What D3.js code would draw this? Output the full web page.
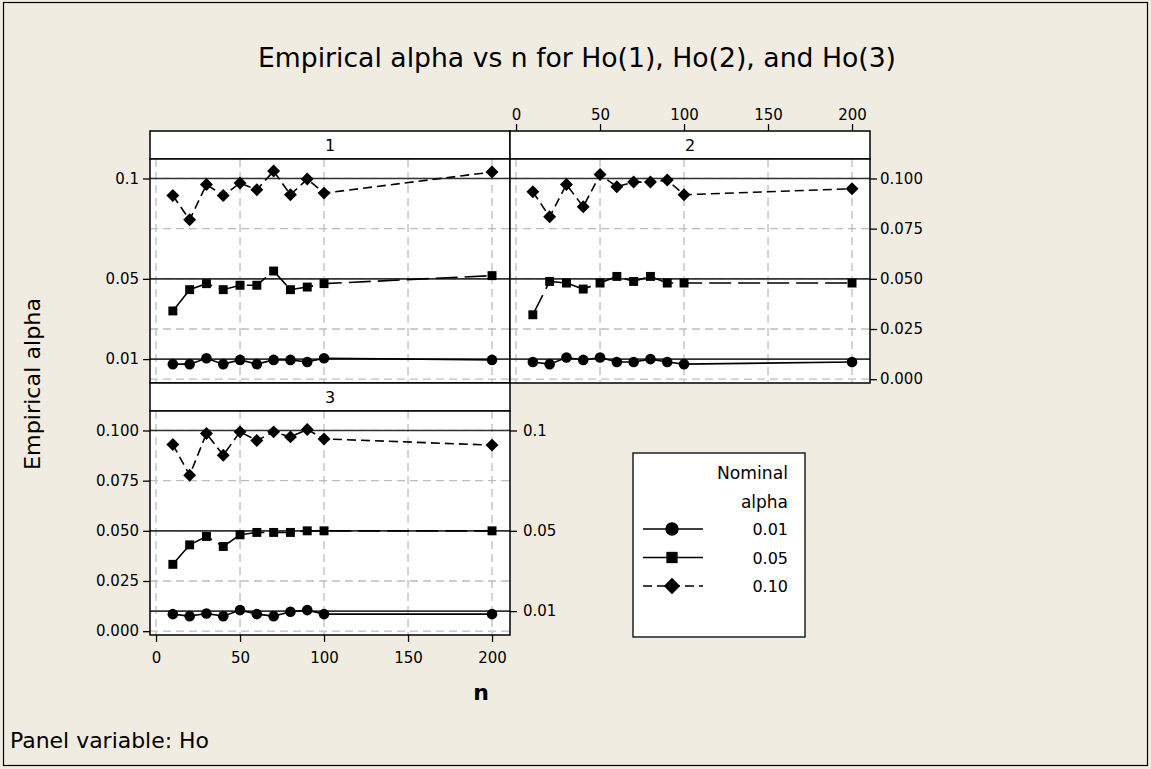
<!DOCTYPE html>
<html><head><meta charset="utf-8">
<script src="https://cdn.jsdelivr.net/npm/d3@7"></script>
<style>body{margin:0;background:#F0ECE2;} svg{display:block;}</style>
</head><body>
<svg id="c" width="1151" height="769"></svg>
<script>
// ---- data ----
const nValues = [10,20,30,40,50,60,70,80,90,100,200];
const panels = ["1","2","3"];
const nominal = ["0.01","0.05","0.10"];
const refLevels = [0.01,0.05,0.10];
const ho1_001 = [0.0075,0.0075,0.0104,0.0075,0.0096,0.0075,0.0096,0.0096,0.0086,0.0104,0.0096];
const ho1_005 = [0.0340,0.0446,0.0476,0.0446,0.0468,0.0468,0.0539,0.0446,0.0459,0.0476,0.0516];
const ho1_010 = [0.0915,0.0794,0.0970,0.0915,0.0977,0.0944,0.1037,0.0919,0.0997,0.0927,0.1032];
const ho2_001 = [0.0086,0.0075,0.0108,0.0096,0.0108,0.0086,0.0086,0.0100,0.0086,0.0075,0.0086];
const ho2_005 = [0.0321,0.0487,0.0479,0.0449,0.0479,0.0512,0.0487,0.0512,0.0479,0.0479,0.0479];
const ho2_010 = [0.0934,0.0809,0.0970,0.0859,0.1020,0.0959,0.0982,0.0982,0.0992,0.0919,0.0949];
const ho3_001 = [0.0085,0.0075,0.0088,0.0075,0.0105,0.0085,0.0075,0.0097,0.0105,0.0085,0.0085];
const ho3_005 = [0.0333,0.0430,0.0472,0.0422,0.0480,0.0492,0.0492,0.0492,0.0500,0.0500,0.0500];
const ho3_010 = [0.0930,0.0777,0.0985,0.0877,0.0993,0.0950,0.0993,0.0968,0.1005,0.0958,0.0927];
const xTicks = [0,50,100,150,200];
const yTicksFull = [0,0.025,0.05,0.075,0.1];
const yTickLabelsFull = ["0.000","0.025","0.050","0.075","0.100"];
const yTicksRef = [0.01,0.05,0.1];
const yTickLabelsRef = ["0.01","0.05","0.1"];

const seriesByPanel = [
  [ho1_001,ho1_005,ho1_010],
  [ho2_001,ho2_005,ho2_010],
  [ho3_001,ho3_005,ho3_010]
];

// ---- layout ----
const svg = d3.select("#c");
const FONT = "DejaVu Sans, Verdana, sans-serif";
const W = 360, HH = 28, PH = 224;
const layout = [{x:150,top:131},{x:510,top:131},{x:150,top:383}];
const dashes = [null, "22,7", "9,5"];
const symbols = [d3.symbolCircle, d3.symbolSquare, d3.symbolSquare];
const symRot = [0, 0, 45];
const symSizes = [88, 80, 84];

svg.append("rect").attr("x",3.5).attr("y",2.5).attr("width",1144).attr("height",763)
  .attr("fill","#F0ECE2").attr("stroke","#000").attr("stroke-width",1.2);

svg.append("text").attr("x",577).attr("y",67).attr("text-anchor","middle")
  .attr("font-family",FONT).attr("font-size",27).attr("textLength",638).attr("lengthAdjust","spacingAndGlyphs")
  .text("Empirical alpha vs n for Ho(1), Ho(2), and Ho(3)");

const axes = [];
panels.forEach((p,i)=>{
  const L = layout[i];
  const g = svg.append("g");
  const pt = L.top + HH, pb = pt + PH;
  const x = d3.scaleLinear().domain([-3.6,210.7]).range([L.x, L.x+W]);
  const y = d3.scaleLinear().domain([-0.0019,0.1097]).range([pb, pt]);
  axes.push({x,y,pt,pb,L});
  // header
  g.append("rect").attr("x",L.x).attr("y",L.top).attr("width",W).attr("height",HH)
    .attr("fill","#fff").attr("stroke","#000").attr("stroke-width",1.5);
  g.append("text").attr("x",L.x+W/2).attr("y",L.top+20).attr("text-anchor","middle")
    .attr("font-family",FONT).attr("font-size",16).text(p);
  // plot area
  g.append("rect").attr("x",L.x).attr("y",pt).attr("width",W).attr("height",PH)
    .attr("fill","#fff");
  // grid
  g.selectAll(".vg").data(xTicks).join("line")
    .attr("x1",d=>x(d)).attr("x2",d=>x(d)).attr("y1",pt).attr("y2",pb)
    .attr("stroke","#bdbdbd").attr("stroke-width",1.3).attr("stroke-dasharray","8,5");
  g.selectAll(".hg").data(yTicksFull).join("line")
    .attr("x1",L.x).attr("x2",L.x+W).attr("y1",d=>y(d)).attr("y2",d=>y(d))
    .attr("stroke","#bdbdbd").attr("stroke-width",1.3).attr("stroke-dasharray","8,5");
  // reference lines
  g.selectAll(".rl").data(refLevels).join("line")
    .attr("x1",L.x).attr("x2",L.x+W).attr("y1",d=>y(d)).attr("y2",d=>y(d))
    .attr("stroke","#333").attr("stroke-width",1.6);
  // series
  seriesByPanel[i].forEach((vals,s)=>{
    const pts = nValues.map((n,k)=>[n,vals[k]]);
    const line = d3.line().x(d=>x(d[0])).y(d=>y(d[1]));
    g.append("path").attr("d",line(pts)).attr("fill","none").attr("stroke","#000")
      .attr("stroke-width",1.6).attr("stroke-dasharray",dashes[s]);
    g.selectAll(".m"+s).data(pts).join("path")
      .attr("transform",d=>`translate(${x(d[0])},${y(d[1])}) rotate(${symRot[s]})`)
      .attr("d",d3.symbol().type(symbols[s]).size(symSizes[s])).attr("fill","#000");
  });
  // border
  g.append("rect").attr("x",L.x).attr("y",pt).attr("width",W).attr("height",PH)
    .attr("fill","none").attr("stroke","#000").attr("stroke-width",1.5);
});

function styleAxis(sel){
  sel.select(".domain").remove();
  sel.selectAll("text").attr("font-family",FONT).attr("font-size",15).attr("fill","#000");
  sel.selectAll("line").attr("stroke","#000").attr("stroke-width",1.3);
}
// panel 1 left
{
  const a = axes[0];
  svg.append("g").attr("transform",`translate(${a.L.x},0)`)
    .call(d3.axisLeft(a.y).tickValues(yTicksRef).tickFormat((d,i)=>yTickLabelsRef[i]).tickSize(7).tickPadding(4))
    .call(styleAxis);
}
// panel 2 top & right
{
  const a = axes[1];
  svg.append("g").attr("transform",`translate(0,${a.L.top})`)
    .call(d3.axisTop(a.x).tickValues(xTicks).tickSize(7).tickPadding(4)).call(styleAxis);
  svg.append("g").attr("transform",`translate(${a.L.x+W},0)`)
    .call(d3.axisRight(a.y).tickValues(yTicksFull).tickFormat((d,i)=>yTickLabelsFull[i]).tickSize(7).tickPadding(3))
    .call(styleAxis);
}
// panel 3 left, right, bottom
{
  const a = axes[2];
  svg.append("g").attr("transform",`translate(${a.L.x},0)`)
    .call(d3.axisLeft(a.y).tickValues(yTicksFull).tickFormat((d,i)=>yTickLabelsFull[i]).tickSize(7).tickPadding(4))
    .call(styleAxis);
  svg.append("g").attr("transform",`translate(${a.L.x+W},0)`)
    .call(d3.axisRight(a.y).tickValues(yTicksRef).tickFormat((d,i)=>yTickLabelsRef[i]).tickSize(7).tickPadding(6))
    .call(styleAxis);
  svg.append("g").attr("transform",`translate(0,${a.pb})`)
    .call(d3.axisBottom(a.x).tickValues(xTicks).tickSize(7).tickPadding(10)).call(styleAxis);
}

// axis titles
svg.append("text").attr("transform","translate(40,384) rotate(-90)").attr("text-anchor","middle")
  .attr("font-family",FONT).attr("font-size",22).attr("textLength",172).attr("lengthAdjust","spacingAndGlyphs")
  .text("Empirical alpha");
svg.append("text").attr("x",481).attr("y",700).attr("text-anchor","middle")
  .attr("font-family",FONT).attr("font-size",22).attr("font-weight","bold").text("n");
svg.append("text").attr("x",10).attr("y",748)
  .attr("font-family",FONT).attr("font-size",21).attr("textLength",199).attr("lengthAdjust","spacingAndGlyphs")
  .text("Panel variable: Ho");

// legend
const lg = svg.append("g");
lg.append("rect").attr("x",633).attr("y",453).attr("width",172).attr("height",184)
  .attr("fill","#fff").attr("stroke","#000").attr("stroke-width",1.3);
lg.append("text").attr("x",788).attr("y",479).attr("text-anchor","end")
  .attr("font-family",FONT).attr("font-size",17).attr("textLength",71).attr("lengthAdjust","spacingAndGlyphs").text("Nominal");
lg.append("text").attr("x",788).attr("y",508).attr("text-anchor","end")
  .attr("font-family",FONT).attr("font-size",17).text("alpha");
nominal.forEach((lab,s)=>{
  const yy = 529 + s*28.5;
  lg.append("line").attr("x1",643).attr("x2",703).attr("y1",yy).attr("y2",yy)
    .attr("stroke","#000").attr("stroke-width",1.6).attr("stroke-dasharray",s===2?"9,5":null);
  lg.append("path").attr("transform",`translate(672,${yy}) rotate(${symRot[s]})`)
    .attr("d",d3.symbol().type(symbols[s]).size(symSizes[s]*1.6)).attr("fill","#000");
  lg.append("text").attr("x",788).attr("y",yy+6).attr("text-anchor","end")
    .attr("font-family",FONT).attr("font-size",16).text(lab);
});
</script>
</body></html>
